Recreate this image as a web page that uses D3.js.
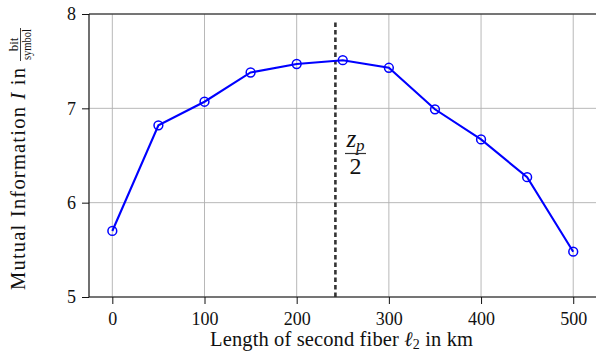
<!DOCTYPE html>
<html><head><meta charset="utf-8">
<script src="https://cdn.jsdelivr.net/npm/d3@7/dist/d3.min.js"></script>
<style>body{margin:0;background:#fff}svg{display:block}text{font-family:"Liberation Serif","DejaVu Serif",serif;fill:#111}</style>
</head><body>
<svg id="c" width="596" height="351"></svg>
<script>
const lengths = [0, 50, 100, 150, 200, 250, 300, 350, 400, 450, 500];
const mutualInfo = [5.70, 6.82, 7.07, 7.38, 7.47, 7.51, 7.43, 6.99, 6.67, 6.27, 5.48];
const xTicks = [0, 100, 200, 300, 400, 500];
const yTicks = [5, 6, 7, 8];
const zpHalf = 242;
const zpLineTop = 7.94;

const svg = d3.select("#c");
const m = {l: 89, t: 14, r: 596, b: 297};
const x = d3.scaleLinear().domain([-25.3, 524.7]).range([m.l, m.r]);
const y = d3.scaleLinear().domain([5, 8]).range([m.b, m.t]);

// grid
svg.append("g").selectAll("line").data(xTicks).join("line")
  .attr("x1", d => x(d)).attr("x2", d => x(d)).attr("y1", m.t).attr("y2", m.b)
  .attr("stroke", "#b0b0b0").attr("stroke-width", 0.9);
svg.append("g").selectAll("line").data(yTicks).join("line")
  .attr("x1", m.l).attr("x2", m.r).attr("y1", d => y(d)).attr("y2", d => y(d))
  .attr("stroke", "#b0b0b0").attr("stroke-width", 0.9);

// axes
const xa = svg.append("g").attr("transform", `translate(0,${m.b})`)
  .call(d3.axisBottom(x).tickValues(xTicks).tickSize(7).tickPadding(8).tickFormat(d3.format("d")));
const ya = svg.append("g").attr("transform", `translate(${m.l},0)`)
  .call(d3.axisLeft(y).tickValues(yTicks).tickSize(7).tickPadding(6).tickFormat(d3.format("d")));
[xa, ya].forEach(a => {
  a.select(".domain").remove();
  a.selectAll(".tick line").attr("stroke", "#111").attr("stroke-width", 1);
  a.selectAll(".tick text").attr("font-size", 18).attr("font-family", "Liberation Serif, serif").attr("fill", "#111");
});
// spines
svg.append("line").attr("x1", m.l).attr("x2", m.l).attr("y1", m.t).attr("y2", m.b).attr("stroke", "#111").attr("stroke-width", 1.2);
svg.append("line").attr("x1", m.l).attr("x2", m.r).attr("y1", m.b).attr("y2", m.b).attr("stroke", "#111").attr("stroke-width", 1.2);
svg.append("line").attr("x1", m.l).attr("x2", m.r).attr("y1", m.t).attr("y2", m.t).attr("stroke", "#111").attr("stroke-width", 1.2);

// dashed zp/2 line
svg.append("line").attr("x1", x(zpHalf)).attr("x2", x(zpHalf)).attr("y1", y(5)).attr("y2", y(zpLineTop))
  .attr("stroke", "#333").attr("stroke-width", 2.6).attr("stroke-dasharray", "4.5,3");

// data line
const pts = lengths.map((d, i) => [d, mutualInfo[i]]);
svg.append("path").datum(pts)
  .attr("d", d3.line().x(d => x(d[0])).y(d => y(d[1])))
  .attr("fill", "none").attr("stroke", "#0000ff").attr("stroke-width", 2.1);
svg.append("g").selectAll("circle").data(pts).join("circle")
  .attr("cx", d => x(d[0])).attr("cy", d => y(d[1])).attr("r", 4.4)
  .attr("fill", "none").attr("stroke", "#0000ff").attr("stroke-width", 1.5);

// zp/2 label
const fx = 355.5;
const zt = svg.append("text").attr("x", fx).attr("y", 147).attr("text-anchor", "middle").attr("font-size", 25).attr("fill", "#333");
zt.append("tspan").attr("font-style", "italic").text("z");
zt.append("tspan").attr("font-style", "italic").attr("font-size", 17).attr("dy", 4).text("p");
svg.append("line").attr("x1", fx - 10.5).attr("x2", fx + 10.5).attr("y1", 153.5).attr("y2", 153.5).attr("stroke", "#333").attr("stroke-width", 1.2);
svg.append("text").attr("x", fx).attr("y", 174).attr("text-anchor", "middle").attr("font-size", 24).attr("fill", "#333").text("2");

// x label
const xl = svg.append("text").attr("x", 210).attr("y", 346).attr("font-size", 20.5)
  .attr("textLength", 263).attr("lengthAdjust", "spacing");
xl.append("tspan").text("Length of second fiber ");
xl.append("tspan").attr("font-style", "italic").text("ℓ");
xl.append("tspan").attr("font-size", 14).attr("dy", 3).text("2");
xl.append("tspan").attr("dy", -3).text(" in km");

// y label (rotated)
const yg = svg.append("g").attr("transform", "translate(25,0) rotate(-90)");
const yt = yg.append("text").attr("x", -290).attr("y", 0).attr("font-size", 20.5)
  .attr("textLength", 222).attr("lengthAdjust", "spacing");
yt.append("tspan").text("Mutual Information ");
yt.append("tspan").attr("font-style", "italic").text("I");
yt.append("tspan").text(" in");
const fw = 33;
const fcx = -28 - fw / 2;
yg.append("text").attr("x", fcx).attr("y", -7.5).attr("text-anchor", "middle").attr("font-size", 13).text("bit");
yg.append("line").attr("x1", fcx - fw / 2).attr("x2", fcx + fw / 2).attr("y1", -4.5).attr("y2", -4.5).attr("stroke", "#111").attr("stroke-width", 0.8);
yg.append("text").attr("x", fcx).attr("y", 5.5).attr("text-anchor", "middle").attr("font-size", 13)
  .attr("textLength", 31).attr("lengthAdjust", "spacingAndGlyphs").text("symbol");
</script>
</body></html>
